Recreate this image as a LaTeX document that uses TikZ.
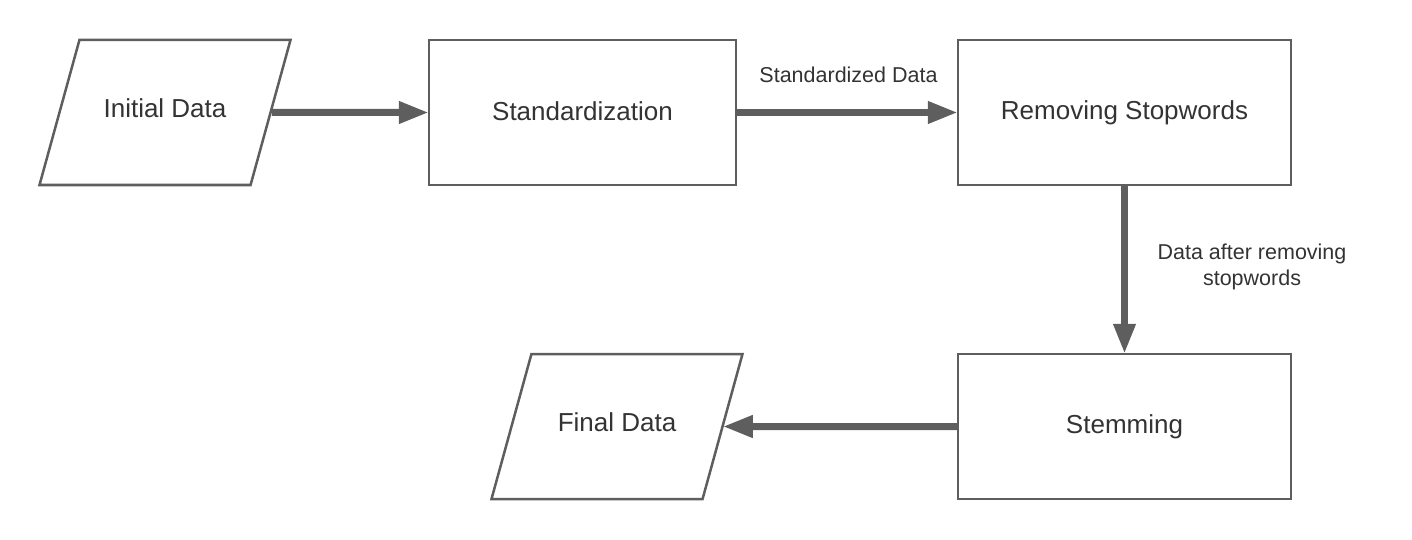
\documentclass[tikz,border=0pt]{standalone}
\usepackage{fontspec}
\setmainfont{Liberation Sans}
\usetikzlibrary{shapes.geometric,arrows.meta}
\definecolor{linec}{HTML}{5E5E5E}
\definecolor{textc}{HTML}{333333}
\tikzset{
  box/.style={draw=linec, line width=2.5pt, fill=white, rectangle, minimum width=#1, minimum height=145pt, inner sep=0pt, text=textc, font=\fontsize{26}{31}\selectfont},
  para/.style={draw=linec, line width=2.5pt, fill=white, trapezium, trapezium left angle=74.6, trapezium right angle=105.4, trapezium stretches body=true, minimum width=251pt, text height=17pt, text depth=7pt, inner ysep=60.5pt, inner xsep=0pt, text=textc, font=\fontsize{26}{31}\selectfont},
  flow/.style={draw=linec, line width=7pt, -{Triangle[length=30pt,width=21pt]}, color=linec, shorten >=-1pt},
  lbl/.style={text=textc, font=\fontsize{21.5}{26}\selectfont, align=center, inner sep=0pt}
}
\begin{document}
\begin{tikzpicture}[x=1pt,y=-1pt]
\useasboundingbox (0,0) rectangle (1412,540);
\node[para] (init) at (165,112.5) {Initial Data};
\node[box=307pt] (std) at (582.5,112.5) {\raisebox{3pt}{Standardization}};
\node[box=333pt] (rem) at (1124.5,112.5) {\raisebox{3pt}{Removing Stopwords}};
\node[box=333pt] (stem) at (1124.5,426.5) {Stemming};
\node[para] (final) at (617,426.5) {Final Data};
\draw[flow] (init.east) -- (std.west);
\draw[flow] (std.east) -- (rem.west);
\draw[flow] (rem.south) -- (stem.north);
\draw[flow] (stem.west) -- (final.east);
\node[lbl] (l1) at (848.5,75) {Standardized Data};
\node[lbl] (l2) at (1252,267) {Data after removing\\stopwords};
\end{tikzpicture}
\end{document}
